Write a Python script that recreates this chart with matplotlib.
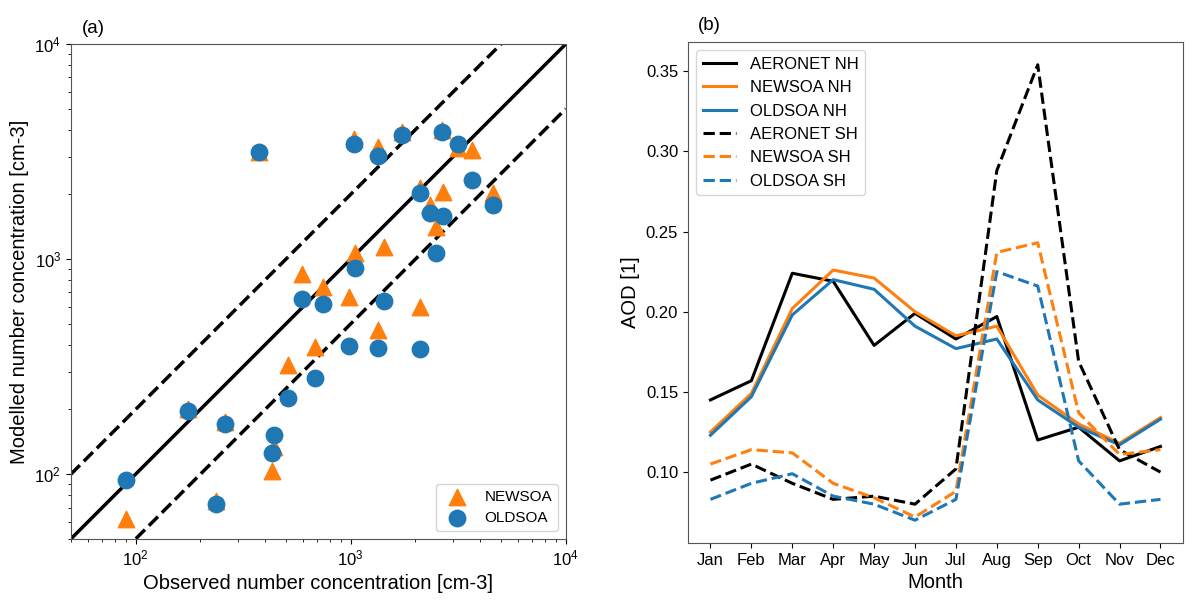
import matplotlib.pyplot as plt
import numpy as np

plt.rcParams['font.family'] = ['Liberation Sans', 'DejaVu Sans']

# panel (a): observed vs modelled number concentration
obs = [373, 1040, 1346, 1738, 2649, 3157, 3658, 2686, 2484, 2099, 2329, 4593, 1047, 592,
       741, 1428, 1340, 982, 2099, 685, 513, 175, 261, 439, 431, 90.5, 237]
newsoa = [3150, 3600, 3325, 3900, 4000, 3300, 3213, 2057, 1413, 2150, 1781, 2023, 1064, 851,
          743, 1143, 468, 668, 596, 391, 321, 200, 175, 134, 104, 62, 75]
oldsoa = [3133, 3412, 3013, 3757, 3883, 3430, 2330, 1585, 1069, 2023, 1641, 1781, 912, 653,
          618, 638, 386, 395, 381, 279, 226, 196, 172, 153, 125, 94.5, 72.5]

# panel (b): monthly AOD
months = ['Jan', 'Feb', 'Mar', 'Apr', 'May', 'Jun', 'Jul', 'Aug', 'Sep', 'Oct', 'Nov', 'Dec']
aeronet_nh = [0.145, 0.157, 0.224, 0.219, 0.179, 0.199, 0.183, 0.197, 0.120, 0.128, 0.107, 0.116]
newsoa_nh = [0.125, 0.149, 0.202, 0.226, 0.221, 0.200, 0.185, 0.191, 0.148, 0.130, 0.118, 0.134]
oldsoa_nh = [0.123, 0.147, 0.198, 0.220, 0.214, 0.191, 0.177, 0.183, 0.145, 0.128, 0.117, 0.133]
aeronet_sh = [0.095, 0.105, 0.093, 0.083, 0.085, 0.080, 0.102, 0.288, 0.354, 0.169, 0.114, 0.100]
newsoa_sh = [0.105, 0.114, 0.112, 0.093, 0.084, 0.072, 0.088, 0.237, 0.243, 0.137, 0.111, 0.114]
oldsoa_sh = [0.083, 0.093, 0.099, 0.085, 0.080, 0.070, 0.083, 0.225, 0.216, 0.107, 0.080, 0.083]

orange = '#ff7f0e'
blue = '#1f77b4'

fig = plt.figure(figsize=(12, 6.04), dpi=100)

# ---- panel (a)
ax = fig.add_axes([0.059, 0.1076, 0.4125, 0.8195])
lims = np.array([50, 10000])
ax.plot(lims, lims, color='black', lw=2.5)
ax.plot(lims, lims * 2, color='black', lw=2.5, ls='--')
ax.plot(lims, lims / 2, color='black', lw=2.5, ls='--')
ax.scatter(obs, newsoa, marker='^', s=140, color=orange, label='NEWSOA', zorder=3)
ax.scatter(obs, oldsoa, marker='o', s=140, color=blue, label='OLDSOA', zorder=4)
ax.set_xscale('log')
ax.set_yscale('log')
ax.set_xlim(50, 10000)
ax.set_ylim(50, 10000)
ax.set_xlabel('Observed number concentration [cm-3]', fontsize=14.5)
ax.set_ylabel('Modelled number concentration [cm-3]', fontsize=14.5)
ax.tick_params(labelsize=12)
ax.legend(loc='lower right', fontsize=11)
ax.text(0.023, 1.015, '(a)', transform=ax.transAxes, fontsize=13.5, ha='left', va='bottom')
for s in ax.spines.values():
    s.set_color('#555555')

# ---- panel (b)
bx = fig.add_axes([0.5733, 0.101, 0.4125, 0.8295])
x = np.arange(len(months))
bx.plot(x, aeronet_nh, color='black', lw=2.2, label='AERONET NH')
bx.plot(x, newsoa_nh, color=orange, lw=2.2, label='NEWSOA NH')
bx.plot(x, oldsoa_nh, color=blue, lw=2.2, label='OLDSOA NH')
bx.plot(x, aeronet_sh, color='black', lw=2.2, ls='--', label='AERONET SH')
bx.plot(x, newsoa_sh, color=orange, lw=2.2, ls='--', label='NEWSOA SH')
bx.plot(x, oldsoa_sh, color=blue, lw=2.2, ls='--', label='OLDSOA SH')
bx.set_xticks(x)
bx.set_xticklabels(months)
bx.set_xlabel('Month', fontsize=14.5)
bx.set_ylabel('AOD [1]', fontsize=14.5)
bx.tick_params(labelsize=12)
bx.legend(loc='upper left', fontsize=12)
bx.text(0.02, 1.015, '(b)', transform=bx.transAxes, fontsize=13.5, ha='left', va='bottom')
for s in bx.spines.values():
    s.set_color('#555555')

fig.savefig('out.png', dpi=100)
